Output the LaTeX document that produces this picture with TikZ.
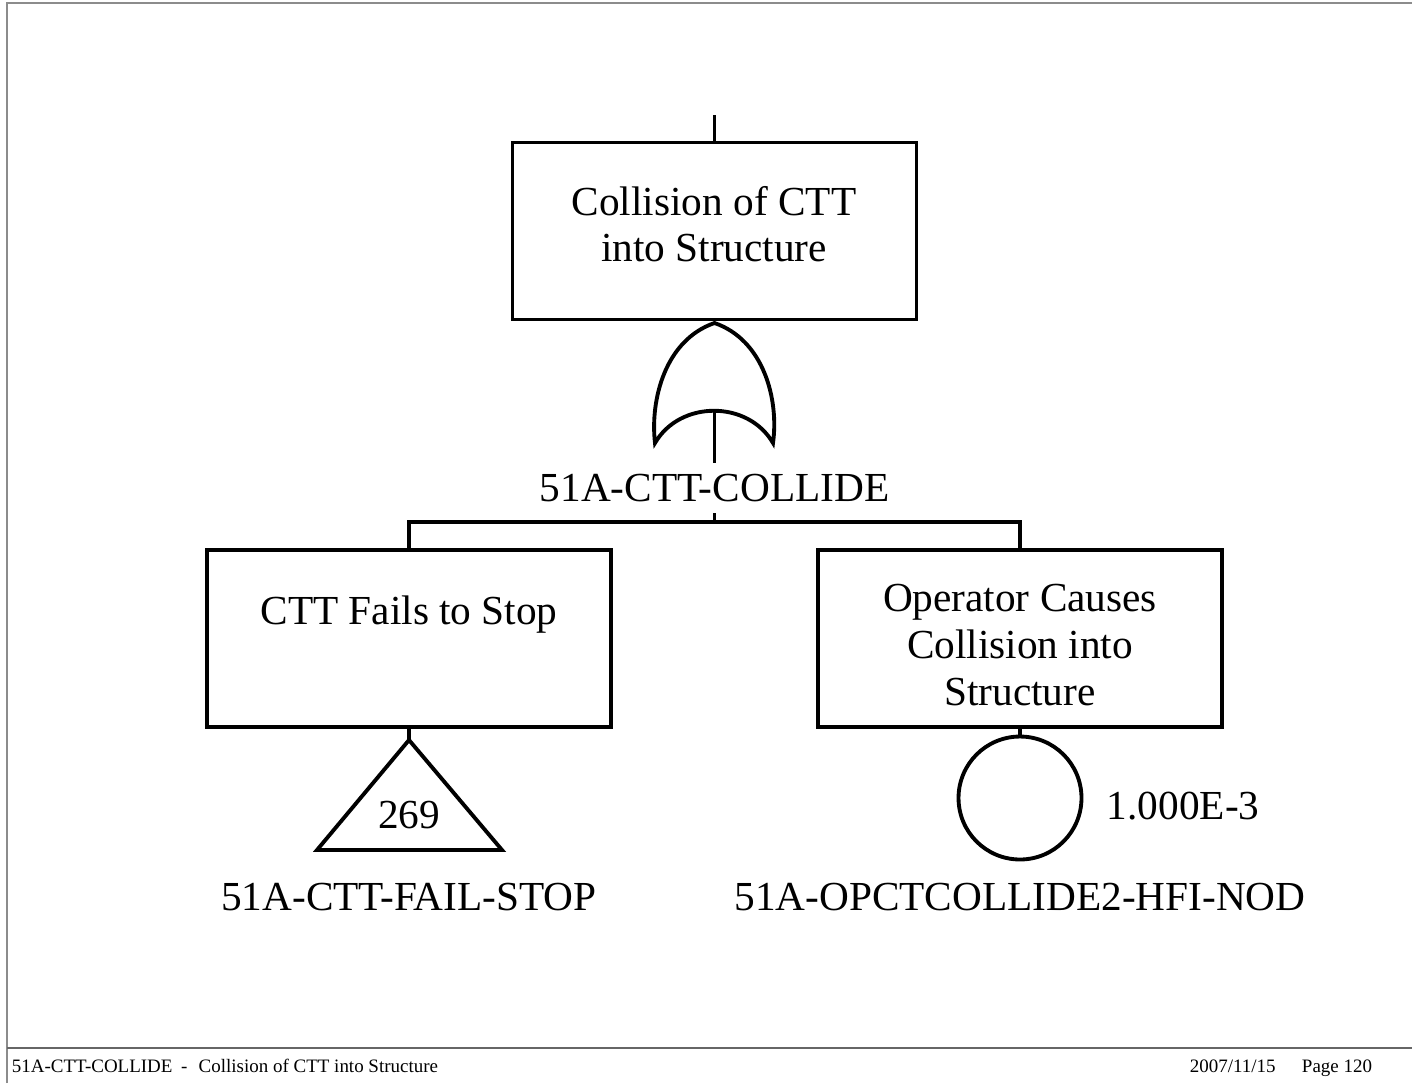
\documentclass[tikz,border=0pt]{standalone}
\usepackage{fontspec}
\setmainfont{Liberation Serif}
\begin{document}
\begin{tikzpicture}[x=0.02cm,y=-0.02cm,line width=2.2pt,
  event/.style={draw,minimum width=8.08cm,minimum height=3.54cm,inner sep=0pt},
  eventtext/.style={align=center,inner sep=0pt,font=\fontsize{23.5}{26.5}\selectfont},
  tag/.style={inner sep=0.19cm,font=\fontsize{23.5}{26.5}\selectfont},
  foot/.style={anchor=base west,inner sep=0pt,font=\fontsize{10.8}{13}\selectfont}]
\useasboundingbox (0,0) rectangle (1412,1083);
% page frame
\draw[black!45,line width=0.8pt] (7,1083) -- (7,3) -- (1412,3);
\draw[black!60,line width=0.8pt] (7,1048) -- (1412,1048);
% top event
\coordinate (feed) at (714.5,115);
\node[event] (top) at (714.5,231) {};
\node[eventtext] (toptext) at (714,224) {Collision of CTT\\into Structure};
\draw (feed) -- (top.north);
% or gate
\coordinate (gatetip) at (714.5,323);
\coordinate (gatein) at (714.5,410);
\draw (gatetip) .. controls (665,340) and (650,400) .. (655,443)
  .. controls (680,400) and (748,400) .. (773,443)
  .. controls (779,400) and (764,340) .. (gatetip) -- cycle;
\node[tag] (gatelabel) at (714.5,488) {51A-CTT-COLLIDE};
\draw (gatein) -- (gatelabel.north);
\coordinate (bus) at (714.5,522);
\draw (gatelabel.south) -- (bus);
% inputs
\node[event] (left) at (409,638.5) {};
\node[eventtext] (lefttext) at (409,615) {CTT Fails to Stop};
\node[event] (right) at (1020,638.5) {};
\node[eventtext] (righttext) at (1020,645) {Operator Causes\\Collision into\\Structure};
\draw (left.north) |- (bus) -| (right.north);
% transfer
\coordinate (tri) at (409,740);
\draw (left.south) -- (tri);
\draw[line join=miter] (tri) -- (317,850) -- (502,850) -- cycle;
\node[eventtext] (xfer) at (409,815) {269};
\node[tag] (faillabel) at (409,897) {51A-CTT-FAIL-STOP};
% basic event
\node[draw,circle,minimum size=2.46cm,inner sep=0pt] (basic) at (1020,798) {};
\draw (right.south) -- (basic.north);
\node[eventtext,anchor=west] (prob) at (1105,806) {1.000E-3};
\node[tag] (oplabel) at (1020,897) {51A-OPCTCOLLIDE2-HFI-NOD};
% footer
\node[foot] (foottitle) at (10,1072) {51A-CTT-COLLIDE\hspace{0.45em}-\hspace{0.6em}Collision of CTT into Structure};
\node[foot] (footdate) at (1188,1072) {2007/11/15};
\node[foot] (footpage) at (1300,1072) {Page 120};
\end{tikzpicture}
\end{document}
